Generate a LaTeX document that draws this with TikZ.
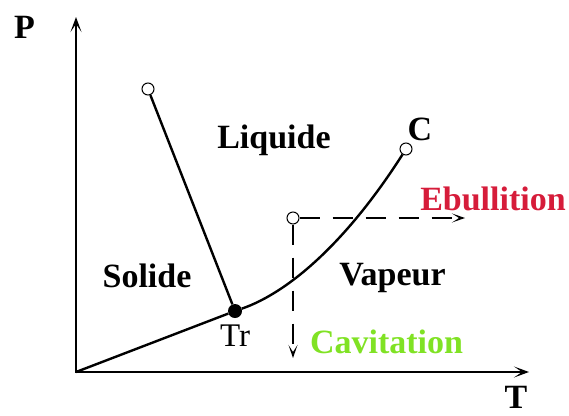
\documentclass[tikz,border=0pt]{standalone}
\usepackage{fontspec}
\setmainfont{Liberation Serif}
\usetikzlibrary{arrows.meta}
\definecolor{ebred}{RGB}{214,28,58}
\definecolor{cavgreen}{RGB}{128,226,36}
\begin{document}
\begin{tikzpicture}[x=1pt,y=-1pt,
  curve/.style={line width=2.4pt},
  axis/.style={line width=2.7pt,line join=miter,{Stealth[length=15pt,width=11pt,inset=8pt]}-{Stealth[length=15pt,width=11pt,inset=8pt]}},
  pathline/.style={line width=2.5pt,dash pattern=on 20pt off 13pt,-{Stealth[length=13pt,width=9pt,inset=7pt]}},
  opendot/.style={circle,draw,fill=white,line width=1pt,minimum size=12pt,inner sep=0pt},
  fulldot/.style={circle,fill=black,minimum size=14pt,inner sep=0pt},
  lab/.style={font=\fontsize{34}{40}\selectfont\bfseries,inner sep=0pt,anchor=base},
]
\useasboundingbox (0,0) rectangle (569,415);
% points
\coordinate (O) at (76,372);
\coordinate (Ptop) at (76,17);
\coordinate (Tend) at (529,372);
\node[opendot] (S) at (148,89) {};
\node[fulldot] (Tr) at (235,311) {};
\node[opendot] (C) at (406,149) {};
\node[opendot] (A) at (293,218) {};
\coordinate (Eb) at (465,218);
\coordinate (Cv) at (293,358);
% axes
\draw[axis] (Ptop) -- (O) -- (Tend);
% phase boundaries
\draw[curve] (O) -- (Tr);
\draw[curve] (S) -- (Tr);
\draw[curve] (Tr) .. controls (290,292) and (348,240) .. (C);
% dashed paths
\draw[pathline] (A) -- (Eb);
\draw[pathline] (A) -- (Cv);
% labels
\node[lab] (P) at (24.5,38) {P};
\node[lab] (T) at (516,408) {T};
\node[lab] (liq) at (274,148) {Liquide};
\node[lab] (Cl) at (420,140) {C};
\node[lab,text=ebred] (eb) at (493,210) {Ebullition};
\node[lab] (sol) at (147,287) {Solide};
\node[lab] (vap) at (392.5,285) {Vapeur};
\node[lab,font=\fontsize{33}{40}\selectfont] (trl) at (235,346) {Tr};
\node[lab,text=cavgreen] (cav) at (386.5,353) {Cavitation};
\end{tikzpicture}
\end{document}
